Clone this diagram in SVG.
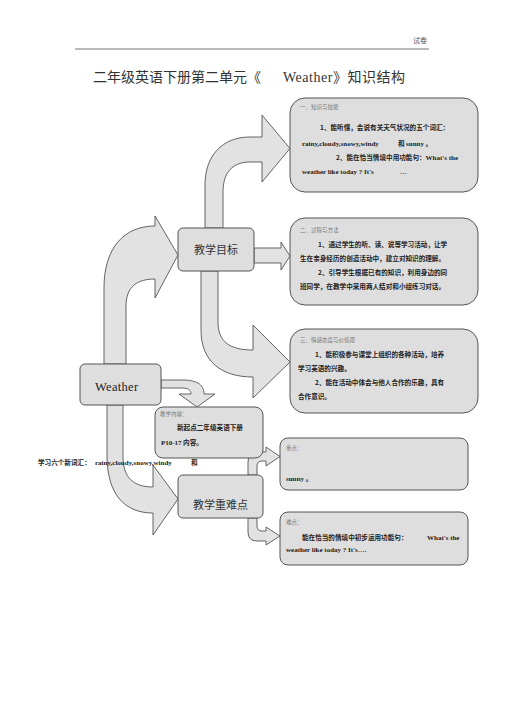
<svg xmlns="http://www.w3.org/2000/svg" width="505" height="714" viewBox="0 0 505 714">
<style>
.bx{fill:#dedede;stroke:#555;stroke-width:1}
.ar{fill:#e2e2e2;stroke:#555;stroke-width:0.9;stroke-linejoin:miter}
.cn{font-family:"Noto Sans CJK SC","Noto Sans CJK JP",sans-serif}
.sr{font-family:"Liberation Serif","Noto Sans CJK SC",serif}
.hd{font-size:5.5px;fill:#777}
.bd{font-size:6.6px;fill:#222;font-weight:bold}
.en{font-size:7px;fill:#222;font-weight:bold}
.lb{font-size:11px;fill:#333}
</style>
<rect width="505" height="714" fill="#fff"/>
<line x1="75" y1="49" x2="429" y2="49" stroke="#777" stroke-width="1"/>
<text x="413" y="43" class="cn" font-size="7" fill="#555">试卷</text>
<text x="93" y="82" class="cn" font-size="14" fill="#333">二年级英语下册第二单元《</text>
<text x="283" y="82" class="sr" font-size="14" fill="#333" textLength="122" lengthAdjust="spacing">Weather》知识结构</text>

<g id="connectors">
<path class="ar" d="M104,364 L104,288 C104,248 124,226 155,226 L155,216 L178,255 L155,298 L155,279 C138,279 126,286 126,306 L126,364 Z"/>
<path class="ar" d="M205,228 L205,185 C205,156 222,137 250,137 L262,137 L262,115 L290,148.5 L262,182 L262,162 L250,162 C233,162 223,172 223,192 L223,228 Z"/>
<path class="ar" d="M254,248 L281,248 L281,242 L290,256 L281,270 L281,263 L254,263 Z"/>
<path class="ar" d="M201,271 L201,330 C201,362 222,377 253,377 L253,398 L290,362 L253,325 L253,350 C230,350 218,342 218,322 L218,271 Z"/>
<path class="ar" d="M161,380 L182,380 C199,380 204,386 204,394 L215,394 L197,407 L179,394 L191,394 C191,390 188,388 182,388 L161,388 Z"/>
<path class="ar" d="M107,405 L107,455 C107,495 125,513 153,513 L153,535 L178,499 L153,465 L153,487 C133,487 123,477 123,457 L123,405 Z"/>
<path class="ar" d="M248,475 L248,462 Q248,452 258,452 L266,452 L266,447 L280,456.5 L266,466 L266,461 L262,461 Q257,461 257,466 L257,475 Z"/>
<path class="ar" d="M248,518 L248,532 Q248,541 257,541 L266,541 L266,545 L280,536 L266,527 L266,531 L262,531 Q257,531 257,526 L257,518 Z"/>
</g>

<g id="box-knowledge">
<rect class="bx" x="290" y="98" width="188" height="94" rx="15"/>
<text x="300" y="109" class="cn hd">一、知识与技能</text>
<text x="320" y="129.5" class="cn bd">1、能听懂，会说有关天气状况的五个词汇：</text>
<text x="302" y="145.5" class="sr en">rainy,cloudy,snowy,windy</text>
<text x="398" y="145.5" class="cn bd">和 <tspan class="sr en">sunny</tspan> 。</text>
<text x="336" y="159.5" class="cn bd">2、能在恰当情境中用功能句：<tspan class="sr en">What's the</tspan></text>
<text x="302" y="173.5" class="sr en">weather like today ? It's</text>
<text x="400" y="173.5" class="sr en">…</text>
</g>

<g id="box-process">
<rect class="bx" x="290" y="218" width="188" height="87" rx="15"/>
<text x="300" y="232" class="cn hd">二、过程与方法</text>
<text x="318" y="246.5" class="cn bd">1、通过学生的听、读、说等学习活动，让学</text>
<text x="300" y="260.5" class="cn bd">生在亲身经历的创造活动中，建立对知识的理解。</text>
<text x="318" y="274.5" class="cn bd">2、引导学生根据已有的知识，利用身边的同</text>
<text x="300" y="288.5" class="cn bd">班同学，在教学中采用两人结对和小组练习对话。</text>
</g>

<g id="box-emotion">
<rect class="bx" x="290" y="329" width="188" height="84" rx="15"/>
<text x="300" y="342" class="cn hd">三、情感态度与价值观</text>
<text x="315" y="356.5" class="cn bd">1、能积极参与课堂上组织的各种活动，培养</text>
<text x="298" y="370.5" class="cn bd">学习英语的兴趣。</text>
<text x="315" y="384.5" class="cn bd">2、能在活动中体会与他人合作的乐趣，具有</text>
<text x="298" y="398.5" class="cn bd">合作意识。</text>
</g>

<g id="node-goals">
<rect class="bx" x="178" y="228" width="76" height="43" rx="5"/>
<text x="216" y="253.5" class="cn lb" text-anchor="middle">教学目标</text>
</g>

<g id="node-weather">
<rect class="bx" x="80" y="364" width="81" height="41" rx="5"/>
<text x="95" y="391" class="sr" font-size="12.5" fill="#222" letter-spacing="0.3">Weather</text>
</g>

<g id="box-content">
<rect class="bx" x="155" y="407" width="108" height="51" rx="8"/>
<text x="160" y="415.5" class="cn hd">教学内容：</text>
<text x="177" y="430" class="cn bd">新起点二年级英语下册</text>
<text x="161" y="444.5" class="cn bd"><tspan class="sr en">P10-17</tspan> 内容。</text>
</g>

<g id="node-keypoints">
<rect class="bx" x="178" y="475" width="85" height="43" rx="5"/>
<text x="220.5" y="509" class="cn lb" text-anchor="middle">教学重难点</text>
</g>

<g id="box-key">
<rect class="bx" x="280" y="438" width="188" height="52" rx="8"/>
<text x="286" y="450" class="cn hd">重点：</text>
<text x="286" y="480.5" class="sr en">sunny <tspan class="cn bd">。</tspan></text>
</g>

<g id="box-difficult">
<rect class="bx" x="280" y="512" width="188" height="53" rx="8"/>
<text x="286" y="523.5" class="cn hd">难点：</text>
<text x="302" y="539.5" class="cn bd" font-size="6.1">能在恰当的情境中初步运用功能句：</text>
<text x="427" y="539.5" class="sr en">What's the</text>
<text x="286" y="552" class="sr en">weather like today ? It's….</text>
</g>

<g id="left-note">
<text x="38" y="464.5" class="cn bd" font-weight="normal" fill="#333">学习六个新词汇：</text>
<text x="95" y="464.5" class="sr en">rainy,cloudy,snowy,windy</text>
<text x="191" y="464.5" class="cn bd">和</text>
</g>
</svg>
